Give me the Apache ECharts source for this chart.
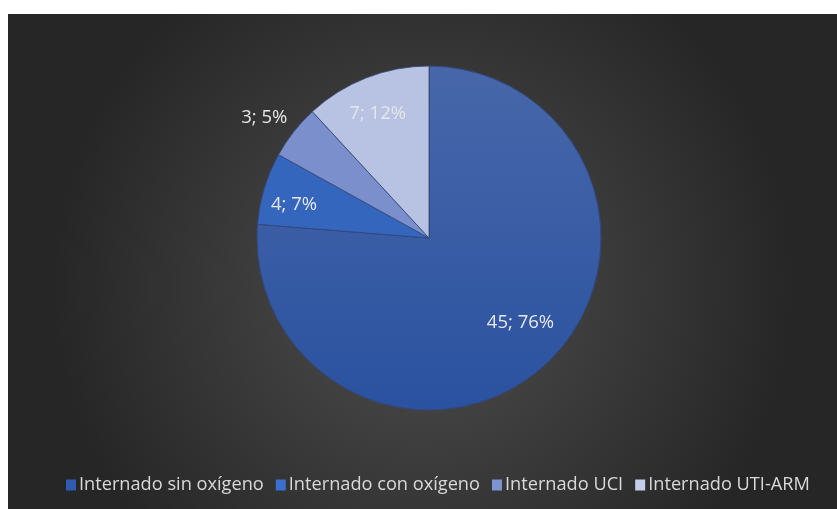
<!DOCTYPE html>
<html>
<head>
<meta charset="utf-8">
<script src="https://cdn.jsdelivr.net/npm/echarts@6/dist/echarts.min.js"></script>
<style>
  html, body { margin: 0; padding: 0; background: #ffffff; }
  #chart { position: absolute; left: 8px; top: 14px; width: 829px; height: 495px; }
</style>
</head>
<body>
<div id="chart"></div>
<script>
// data
const categories = ['Internado sin oxígeno', 'Internado con oxígeno', 'Internado UCI', 'Internado UTI-ARM']
const counts = [45, 4, 3, 7]
const percentLabels = ['76%', '7%', '5%', '12%']

const sliceColors = [
    { type: 'linear', x: 0, y: 0, x2: 0, y2: 1, colorStops: [
        { offset: 0, color: '#4867aa' }, { offset: 1, color: '#2a52a0' }
    ] },
    '#3566be',
    '#7a8fcb',
    '#b8c2e3'
]
const legendColors = ['#2f5cb0', '#3a6fd0', '#7d93d2', '#c4cdec']

const fontFamily = '"Open Sans", sans-serif'
const outsideIndex = 2   // "3; 5%" sits outside the pie
const nearIndex = 0      // "45; 76%" sits a bit closer to the centre

const chart = echarts.init(document.getElementById('chart'))

const labelText = i => counts[i] + '; ' + percentLabels[i]

const mainData = categories.map((name, i) => ({
    name: name,
    value: counts[i],
    itemStyle: { color: sliceColors[i] },
    label: i === outsideIndex ? { show: true, position: 'outside', formatter: labelText(i) } : { show: false }
}))

// transparent copies, larger radius, only to place the inside labels further out
const helperData = show => categories.map((name, i) => ({
    name: name,
    value: counts[i],
    label: { show: show(i), formatter: labelText(i) }
}))

const helperSeries = (radius, data, shift) => ({
    type: 'pie',
    center: [421, 224],
    radius: radius,
    startAngle: 90,
    clockwise: true,
    silent: true,
    avoidLabelOverlap: false,
    data: data,
    itemStyle: { color: 'rgba(0,0,0,0)' },
    label: { position: 'inside', color: '#e6e6e6', fontSize: 18.5, fontFamily: fontFamily },
    labelLine: { show: false },
    labelLayout: () => shift
})

const option = {
    backgroundColor: {
        type: 'radial', x: 0.5, y: 0.55, r: 0.75,
        colorStops: [
            { offset: 0, color: '#4f4f4f' },
            { offset: 1, color: '#262626' }
        ]
    },
    legend: {
        bottom: 10,
        left: 53,
        itemWidth: 10,
        itemHeight: 11,
        itemGap: 12,
        icon: 'rect',
        selectedMode: false,
        data: categories.map((name, i) => ({
            name: name,
            itemStyle: { color: legendColors[i], borderWidth: 0 }
        })),
        textStyle: { color: '#d9d9d9', fontSize: 18.2, fontFamily: fontFamily, padding: [0, 0, 0, -2] }
    },
    series: [
        {
            type: 'pie',
            center: [421, 224],
            radius: 172,
            startAngle: 90,
            clockwise: true,
            avoidLabelOverlap: false,
            silent: true,
            data: mainData,
            itemStyle: { borderColor: '#33477a', borderWidth: 0.8 },
            label: { color: '#e6e6e6', fontSize: 18.5, fontFamily: fontFamily },
            labelLine: { show: false, length: 22, length2: 0 },
            labelLayout: p => (p.dataIndex === outsideIndex ? { dx: 16 } : {})
        },
        helperSeries(246, helperData(i => i === nearIndex), { dx: 6, dy: -8 }),
        helperSeries(276, helperData(i => i !== nearIndex && i !== outsideIndex), { dy: 7 })
    ]
}

chart.setOption(option)
</script>
</body>
</html>
